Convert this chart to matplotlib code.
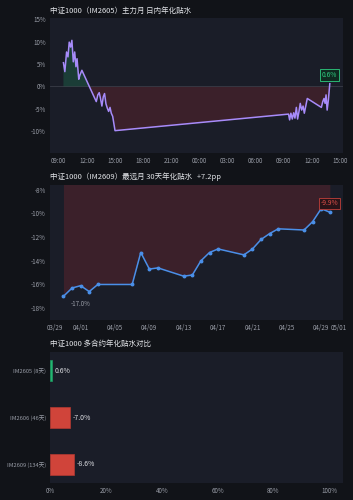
import numpy as np
import pandas as pd
import matplotlib
matplotlib.use("Agg")
import matplotlib.pyplot as plt
import matplotlib.dates as mdates
from matplotlib.ticker import FuncFormatter

plt.rcParams['font.family'] = ['Noto Sans CJK SC', 'DejaVu Sans']

# intraday annualized basis, IM2605 (two trading sessions)
intra_times = [
    "2026-04-29 09:30", "2026-04-29 09:39", "2026-04-29 09:50", "2026-04-29 09:59",
    "2026-04-29 10:07", "2026-04-29 10:16", "2026-04-29 10:24", "2026-04-29 10:33",
    "2026-04-29 10:42", "2026-04-29 10:50", "2026-04-29 10:57", "2026-04-29 11:08",
    "2026-04-29 11:15", "2026-04-29 11:28",
    "2026-04-29 13:00", "2026-04-29 13:10", "2026-04-29 13:19", "2026-04-29 13:27",
    "2026-04-29 13:36", "2026-04-29 13:45", "2026-04-29 13:53", "2026-04-29 14:02",
    "2026-04-29 14:11", "2026-04-29 14:19", "2026-04-29 14:28", "2026-04-29 14:36",
    "2026-04-29 14:45", "2026-04-29 15:00",
    "2026-04-30 09:30", "2026-04-30 09:37", "2026-04-30 09:45", "2026-04-30 09:54",
    "2026-04-30 10:03", "2026-04-30 10:11", "2026-04-30 10:20", "2026-04-30 10:28",
    "2026-04-30 10:37", "2026-04-30 10:45", "2026-04-30 10:54", "2026-04-30 11:03",
    "2026-04-30 11:11", "2026-04-30 11:30",
    "2026-04-30 13:00", "2026-04-30 13:09", "2026-04-30 13:17", "2026-04-30 13:24",
    "2026-04-30 13:30", "2026-04-30 13:37", "2026-04-30 13:45", "2026-04-30 13:54",
]
intra_vals = [
    5.3, 3.3, 7.7, 6.6, 9.9, 8.8, 10.3, 5.5, 7.7, 4.4, 6.2, 1.6, 2.5, 3.6,
    -3.4, -1.9, -1.4, -2.7, -4.4, -2.3, -1.6, -3.9, -4.9, -5.6, -4.7, -6.0, -6.7, -9.9,
    -6.2, -7.5, -6.0, -7.3, -5.9, -7.1, -4.7, -7.3, -5.6, -3.8, -5.3, -4.4, -6.0, -2.7,
    -4.7, -3.4, -2.7, -3.8, -1.9, -5.3, -3.0, 0.6,
]

# 30-day annualized basis, IM2609
far_dates = [
    "2026-03-30", "2026-03-31", "2026-04-01", "2026-04-02", "2026-04-03",
    "2026-04-07", "2026-04-08", "2026-04-09", "2026-04-10", "2026-04-13",
    "2026-04-14", "2026-04-15", "2026-04-16", "2026-04-17", "2026-04-20",
    "2026-04-21", "2026-04-22", "2026-04-23", "2026-04-24", "2026-04-27",
    "2026-04-28", "2026-04-29", "2026-04-30",
]
far_vals = [
    -17.0, -16.3, -16.1, -16.6, -16.0, -16.0, -13.3, -14.7, -14.6, -15.3,
    -15.2, -14.0, -13.3, -13.0, -13.5, -13.0, -12.2, -11.7, -11.3, -11.4,
    -10.7, -9.6, -9.9,
]

# contract comparison
contracts = ["IM2605 (8天)", "IM2606 (46天)", "IM2609 (134天)"]
contract_vals = [0.6, -7.0, -8.6]

BG = "#111318"
AX_BG = "#1a1d28"
TXT = "#9a9ea8"
TITLE = "#e2e4e8"
RED = "#d0443a"
GREEN = "#22b573"
PURPLE = "#a78bfa"
BLUE = "#4a8fe8"

fig = plt.figure(figsize=(3.53, 5.0), dpi=100, facecolor=BG)
ax1 = fig.add_axes([0.142, 0.694, 0.830, 0.270])
ax2 = fig.add_axes([0.142, 0.360, 0.830, 0.270])
ax3 = fig.add_axes([0.142, 0.034, 0.830, 0.262])

for ax in (ax1, ax2, ax3):
    ax.set_facecolor(AX_BG)
    for s in ax.spines.values():
        s.set_visible(False)
    ax.tick_params(colors=TXT, labelsize=4.5, length=0, pad=3)

pct = FuncFormatter(lambda v, p: f"{v:.0f}%")

# --- panel 1 ---
t1 = pd.to_datetime(intra_times)
v1 = np.array(intra_vals)
ax1.axhline(0, color="#3a3d48", lw=0.6, zorder=1)
ax1.fill_between(t1, v1, 0, where=v1 >= 0, interpolate=True, color="#1f8a5a", alpha=0.3, lw=0)
ax1.fill_between(t1, v1, 0, where=v1 < 0, interpolate=True, color="#8a2a30", alpha=0.3, lw=0)
ax1.plot(t1, v1, color=PURPLE, lw=1.1, zorder=3)
ax1.set_ylim(-14.9, 15.3)
ax1.set_yticks([-10, -5, 0, 5, 10, 15])
ax1.yaxis.set_major_formatter(pct)
ax1.xaxis.set_major_locator(mdates.HourLocator(byhour=range(0, 24, 3)))
ax1.xaxis.set_major_formatter(mdates.DateFormatter("%H:%M"))
ax1.annotate(f"{intra_vals[-1]:.1f}%", (t1[-1], v1[-1]), xytext=(0, 3.5), textcoords="offset points",
             ha="center", va="bottom", fontsize=4.8, color="#2ecc80",
             bbox=dict(boxstyle="square,pad=0.25", fc="#0f2a20", ec="#2ecc80", lw=0.6))
ax1.set_title("中证1000（IM2605）主力月 日内年化贴水", loc="left", fontsize=5.4, color=TITLE, pad=4)

# --- panel 2 ---
t2 = pd.to_datetime(far_dates)
v2 = np.array(far_vals)
ax2.fill_between(t2, v2, 0, color="#8a2a30", alpha=0.3, lw=0)
ax2.plot(t2, v2, color=BLUE, lw=1.1, marker="o", ms=1.8, zorder=3)
ax2.set_ylim(-19.0, -7.6)
ax2.set_yticks([-18, -16, -14, -12, -10, -8])
ax2.yaxis.set_major_formatter(pct)
ax2.xaxis.set_major_locator(mdates.DayLocator(bymonthday=range(1, 32, 4)))
ax2.xaxis.set_major_formatter(mdates.DateFormatter("%m/%d"))
ax2.annotate(f"{far_vals[0]:.1f}%", (t2[0], v2[0]), xytext=(5, -3), textcoords="offset points",
             ha="left", va="top", fontsize=4.5, color=TXT)
ax2.annotate(f"{far_vals[-1]:.1f}%", (t2[-1], v2[-1]), xytext=(0, 3.5), textcoords="offset points",
             ha="center", va="bottom", fontsize=4.8, color="#e0504a",
             bbox=dict(boxstyle="square,pad=0.25", fc="#2a1418", ec="#c0403a", lw=0.6))
ax2.set_title("中证1000（IM2609）最远月 30天年化贴水   +7.2pp", loc="left", fontsize=5.4, color=TITLE, pad=4)

# --- panel 3 ---
ypos = np.arange(len(contracts))
widths = [abs(v) for v in contract_vals]
colors = [GREEN if v >= 0 else RED for v in contract_vals]
ax3.barh(ypos, widths, height=0.44, color=colors,
         edgecolor=["#1f9a60" if v >= 0 else "#b33a32" for v in contract_vals], lw=0.5)
for y, w, v in zip(ypos, widths, contract_vals):
    ax3.text(w + 1.0, y, f"{v:.1f}%", va="center", ha="left", fontsize=5, color="#dcdde2")
ax3.set_yticks(ypos)
ax3.set_yticklabels(contracts, fontsize=4.1)
ax3.set_ylim(2.4, -0.4)
ax3.set_xlim(0, 105)
ax3.set_xticks(range(0, 101, 20))
ax3.xaxis.set_major_formatter(pct)
ax3.set_title("中证1000 多合约年化贴水对比", loc="left", fontsize=5.4, color=TITLE, pad=4)

fig.savefig("out.png", dpi=100, facecolor=BG)
